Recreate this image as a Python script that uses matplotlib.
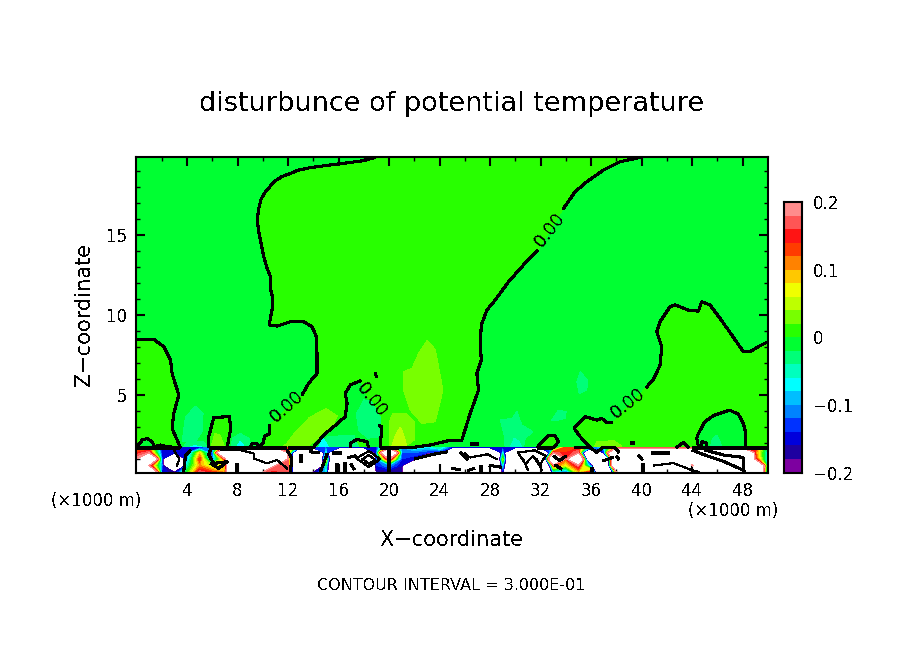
import numpy as np
import matplotlib
matplotlib.use("Agg")
import matplotlib.pyplot as plt
from matplotlib.colors import ListedColormap, BoundaryNorm

plt.rcParams['text.antialiased'] = False
plt.rcParams['font.family'] = 'DejaVu Sans'

W, H = 904, 654
LW_THICK = 1.5
LW_THIN = 0.8

# colour bins of the scale, bottom to top
levels = np.round(np.arange(-0.2, 0.2001, 0.02), 2)
bin_colors = ['#7d00a0', '#1e00a0', '#0000dc', '#0032ff', '#0082ff', '#00beff', '#00ffff',
              '#00ffbe', '#00ff78', '#00ff32', '#28ff00', '#78ff00', '#beff00', '#f0ff00',
              '#ffc800', '#ff8200', '#ff3c00', '#ff1414', '#ff5555', '#ff8c8c']
cbar_ticks = [-0.2, -0.1, 0, 0.1, 0.2]
cbar_labels = ['\u22120.2', '\u22120.1', '0', '0.1', '0.2']
x_major = [4, 8, 12, 16, 20, 24, 28, 32, 36, 40, 44, 48]
z_major = [5, 10, 15]

# zero contour (km)
line_a_up = [(18.91, 19.85), (17.99, 19.65), (16.40, 19.48), (15.35, 19.38), (13.77, 19.21), (12.84, 19.06),
             (12.18, 18.85), (11.52, 18.65), (11.0, 18.4), (10.6, 18.06), (10.21, 17.71), (9.86, 17.23),
             (9.68, 16.67), (9.55, 15.94), (9.68, 15.21), (9.86, 14.48), (10.07, 13.65), (10.34, 12.92),
             (10.6, 12.4), (10.6, 11.67), (10.79, 11.04), (10.73, 10.31), (10.5, 9.38), (11.13, 9.31),
             (12.18, 9.58), (13.24, 9.58), (13.9, 9.27), (14.24, 8.65), (14.29, 7.6), (14.29, 6.35),
             (13.63, 5.73), (13.1, 5.0)]
line_a_low = [(10.55, 3.13), (10.5, 2.56), (10.15, 2.44), (10.02, 1.98), (9.68, 1.77), (9.4, 1.71)]
line_b_up = [(13.98, 1.71), (14.82, 2.5), (15.61, 3.02), (16.53, 3.65), (16.67, 4.48), (16.53, 5.1),
             (16.93, 5.63), (17.77, 5.9)]
line_b_low = [(19.17, 3.1), (19.43, 3.02), (19.36, 2.4), (19.3, 1.71)]
line_c_up = [(39.87, 19.85), (38.3, 19.58), (36.97, 19.06), (35.66, 18.33), (34.73, 17.71), (33.76, 16.6)]
line_c_low = [(31.78, 14.06), (30.64, 13.13), (29.46, 12.08), (28.4, 10.94), (27.74, 10.31), (27.3, 9.38),
              (27.22, 8.23), (27.3, 7.17), (26.95, 6.35), (27.08, 5.31), (26.42, 3.85), (25.76, 2.19),
              (24.71, 2.15), (23.26, 1.88), (21.94, 1.73), (20.75, 1.71)]
line_d_low = [(35.92, 1.71), (35.13, 2.4), (34.65, 2.92), (35.52, 3.65), (36.44, 3.44), (36.84, 3.54),
              (37.24, 3.27), (37.71, 3.27)]
line_d_up = [(40.35, 5.46), (40.93, 5.98), (41.46, 6.88), (41.59, 8.02), (41.19, 8.96), (41.45, 9.58),
             (42.25, 10.52), (42.65, 10.63), (43.83, 10.27), (44.49, 10.25), (44.75, 10.83), (45.41, 10.63),
             (46.2, 9.79), (46.86, 9.06), (48.05, 7.71), (48.58, 7.71), (49.37, 8.08), (50, 8.33)]
line_left = [(0, 8.48), (1.37, 8.48), (2.16, 8.02), (2.69, 7.19), (2.82, 6.35), (3.35, 5.0), (2.95, 3.85),
             (2.82, 2.92), (3.48, 1.71)]
line_hill = [(0, 1.71), (0.45, 2.19), (0.84, 2.29), (1.24, 2.08), (1.42, 1.77), (1.9, 1.88), (2.43, 1.77), (3.48, 1.71)]
line_box = [(5.72, 1.71), (5.72, 2.4), (6.12, 3.6), (7.38, 3.65), (7.44, 2.81), (7.17, 1.71)]
line_sm1 = [(9.02, 1.77), (9.15, 1.98), (9.55, 1.94), (9.68, 1.77)]
line_sm2 = [(16.93, 1.71), (16.93, 1.98), (17.46, 2.23), (18.25, 2.08), (18.38, 1.71)]
line_sm3 = [(31.7, 1.71), (32.62, 2.5), (33.15, 2.44), (33.41, 2.08), (33.01, 1.71)]
line_sm4 = [(42.72, 1.71), (43.3, 2.04), (43.7, 1.71)]
line_sm5 = [(44.76, 1.77), (44.76, 2.08), (45.1, 2.04), (45.1, 1.77)]
line_dome = [(48.24, 1.71), (48.24, 2.6), (48.05, 3.23), (47.65, 3.81), (46.94, 4.06), (45.67, 3.71), (45.0, 3.33),
             (44.49, 2.6), (44.36, 2.29), (44.49, 1.77)]
line_marks = [[(18.9, 6.4), (19.0, 6.1)], [(26.42, 1.94), (27.08, 1.94)], [(39.1, 1.98), (39.5, 1.98)]]

# contour labels: x, z, angle
label_x = [11.9, 18.64, 32.75, 38.95]
label_z = [4.27, 4.69, 15.3, 4.48]
label_rot = [42, -52, 52, 38]

# weak anomalies above the band: value and outline
blobs = [
    (-0.03, [(3.61, 2.08), (3.88, 3.63), (4.67, 4.31), (5.27, 3.85), (5.19, 2.71), (4.67, 2.08)]),
    (-0.03, [(3.7, 1.72), (4.0, 2.1), (5.3, 2.1), (5.6, 1.72)]),
    (-0.07, [(4.2, 1.72), (4.6, 1.85), (5.3, 1.72)]),
    (0.03, [(5.9, 1.72), (6.2, 2.6), (6.6, 2.5), (7.0, 1.72)]),
    (-0.03, [(7.5, 1.72), (7.6, 2.3), (8.2, 2.6), (8.9, 2.3), (9.1, 1.72)]),
    (-0.07, [(7.9, 1.72), (8.2, 2.1), (8.6, 1.72)]),
    (0.03, [(11.9, 1.98), (12.6, 2.7), (13.7, 3.6), (15.0, 4.15), (15.9, 3.7), (15.5, 3.0), (14.2, 2.2),
            (13.5, 1.75), (11.5, 1.72)]),
    (-0.03, [(14.6, 1.72), (15.1, 2.4), (17.2, 2.5), (17.6, 1.72)]),
    (-0.07, [(14.4, 1.72), (14.8, 2.3), (15.2, 1.72)]),
    (-0.03, [(17.6, 2.8), (17.4, 3.8), (18.0, 4.7), (18.6, 4.6), (19.3, 3.6), (19.3, 2.4), (18.3, 2.3)]),
    (0.03, [(20.0, 1.72), (20.0, 3.3), (20.3, 3.85), (21.3, 3.85), (22.0, 3.3), (22.0, 2.2), (21.5, 1.9)]),
    (0.05, [(20.2, 1.75), (20.5, 2.5), (20.9, 3.0), (21.2, 2.4), (21.4, 1.75)]),
    (0.03, [(23.0, 8.4), (23.66, 7.85), (24.26, 5.31), (23.66, 3.33), (22.6, 3.23), (21.68, 4.06), (21.15, 5.31),
            (21.15, 6.46), (21.81, 6.67), (22.34, 7.6)]),
    (-0.03, [(28.8, 3.44), (29.74, 3.54), (30.12, 3.96), (30.51, 3.13), (31.38, 2.71), (30.78, 2.29), (30.64, 1.71),
             (29.19, 1.71), (29.11, 2.5)]),
    (-0.05, [(29.6, 1.72), (29.9, 2.3), (30.3, 2.1), (30.5, 1.72)]),
    (-0.03, [(32.89, 3.44), (33.42, 4.06), (34.02, 3.96), (33.94, 3.54), (33.15, 3.38)]),
    (-0.03, [(34.86, 5.83), (35.13, 6.46), (35.7, 5.94), (35.66, 5.31), (35.05, 5.1)]),
    (0.03, [(36.2, 1.71), (36.46, 2.08), (37.77, 2.15), (38.43, 1.81)]),
    (-0.03, [(45.41, 1.71), (45.62, 2.29), (45.94, 2.5), (46.26, 2.0), (46.33, 1.71)]),
]

# strong band near the ground, columns every km, values beyond the scale stay white
Hi = 0.9
Lo = -0.9
band_z = [0.16, 0.6, 1.0, 1.4, 1.72]
band_x = list(range(51))
band_r0 = [.15, Hi, -.14, -.18, 0, .18, .14, .10, Hi, Hi, .16, .15, .18, Lo, -.18, -.08, Lo, Lo, Lo, -.18,
           -.18, -.18, Lo, Lo, Lo, -.18, Lo, Lo, Lo, -.16, Lo, Lo, Lo, -.10, -.14, .08, .18, Lo, .12, Hi,
           Hi, Hi, Hi, Hi, Hi, Hi, .16, Hi, Hi, Hi, -.18]
band_r1 = [Hi, .18, -.10, Lo, -.05, .10, .04, .08, Hi, Hi, Hi, .18, .18, Lo, Lo, -.04, Lo, Lo, Lo, -.14,
           -.10, -.16, Lo, Lo, Lo, Lo, Lo, Lo, Lo, -.08, Lo, Lo, Lo, .14, .06, .18, -.14, Lo, Hi, Hi,
           Hi, Hi, Hi, Hi, .12, Hi, Hi, Hi, Hi, Hi, -.14]
band_r2 = [.20, Hi, -.12, Lo, -.10, .14, -.12, .14, Hi, Hi, Hi, Hi, .18, Lo, Lo, .08, Lo, Lo, Lo, -.12,
           .20, -.14, -.16, Lo, Lo, Lo, Lo, Lo, Lo, .04, Lo, Lo, Lo, Hi, .12, Hi, Lo, Lo, Hi, Hi,
           Hi, Hi, Hi, Hi, Hi, Hi, Hi, Hi, Hi, .16, -.10]
band_r3 = [.14, .18, -.14, -.16, -.14, .08, -.16, Hi, Hi, Hi, Hi, Hi, .18, Lo, Lo, -.06, Lo, Lo, Lo, -.14,
           Hi, -.12, -.12, -.14, -.16, Lo, Lo, Lo, Lo, -.08, Lo, Lo, Lo, .18, .14, .18, Lo, -.16, Hi, Hi,
           Hi, Hi, Hi, Hi, Hi, Hi, Hi, Hi, Hi, .12, -.08]
band_r4 = [.10, .10, -.14, -.16, -.14, -.16, -.10, .14, .15, .15, .15, .15, .14, -.14, -.14, -.12, -.14, -.14, -.14, -.14,
           .12, -.10, -.06, -.08, -.04, -.15, -.15, -.15, -.15, -.15, -.15, -.15, -.15, -.10, .14, .14, -.12, -.08, .10, .10,
           .10, .10, .10, .10, .10, .10, .10, .12, .15, .14, -.05]

# thin and thick lines inside the band
band_thick = [
    [(0, 1.71), (3.48, 1.71)], [(5.72, 1.71), (11.9, 1.71)], [(12.0, 1.71), (14.0, 1.71)], [(19.3, 1.71), (20.75, 1.71)],
    [(31.7, 1.71), (33.0, 1.71)], [(34.7, 1.71), (35.92, 1.75), (36.4, 1.42), (36.9, 1.71), (37.9, 1.71), (38.2, 1.4)],
    [(44.0, 1.71), (50, 1.71)],
    [(4.27, 1.56), (3.88, 1.25), (3.74, 0.2)], [(11.92, 1.56), (12.3, 1.04), (12.18, 0.2)],
    [(5.85, 1.56), (5.72, 1.25), (6.12, 0.73), (7.17, 0.83), (6.5, 0.42), (5.85, 0.73)],
    [(7.96, 0.73), (7.96, 0.2)], [(14.55, 0.2), (14.82, 0.73), (15.1, 1.35)], [(19.96, 1.56), (19.96, 0.2)],
    [(40.14, 0.73), (40.14, 0.2)], [(36.05, 0.5), (36.05, 0.2)], [(27.3, 0.6), (27.3, 0.2)],
    [(44.0, 1.56), (45.0, 1.25), (46.5, 0.85), (48.05, 0.3)], [(48.05, 1.1), (46.5, 1.25), (45.0, 1.56)],
    [(48.05, 1.1), (48.1, 0.2)],
    [(38.2, 0.95), (38.0, 1.2)], [(33.0, 1.2), (33.5, 0.9), (34.0, 1.2)], [(22.0, 1.0), (23.5, 1.3), (24.6, 1.45)],
]
band_thin = [
    [(6.66, 1.6), (8.2, 1.56), (9.28, 1.35), (9.28, 1.04), (10.34, 0.73), (11.13, 0.94), (11.92, 0.42)],
    [(3.0, 1.5), (3.4, 1.0), (3.2, 0.6)],
    [(41.0, 0.6), (42.5, 0.75), (44.0, 0.3), (44.5, 0.2)],
    [(17.9, 1.0), (18.4, 1.25), (18.9, 0.95), (18.4, 0.7), (17.9, 1.0)],
    [(17.4, 1.05), (18.4, 1.5), (19.3, 1.0), (18.4, 0.5), (17.4, 1.05)],
    [(30.2, 1.4), (30.8, 0.7), (31.4, 1.2), (31.9, 0.6), (32.4, 1.2), (31.5, 1.55), (30.2, 1.4)],
    [(30.6, 1.0), (31.0, 0.3)], [(31.7, 1.0), (32.1, 0.3)],
    [(28.5, 1.0), (27.8, 1.3), (26.4, 1.1), (26.0, 1.35)],
]
band_dash = [
    [(13.0, 1.2), (13.0, 0.9)], [(13.8, 1.45), (14.4, 1.4)], [(15.6, 1.4), (16.1, 1.4)], [(15.9, 0.6), (15.9, 0.2)],
    [(16.5, 0.7), (16.5, 0.3)], [(16.8, 1.1), (17.3, 1.2)], [(17.0, 0.65), (17.2, 0.4)], [(25.0, 0.4), (25.6, 0.35)],
    [(25.7, 1.4), (26.2, 1.0)], [(26.7, 0.4), (26.3, 0.3)], [(28.0, 0.6), (28.8, 0.5)], [(39.8, 1.2), (40.0, 1.0)],
    [(40.9, 1.4), (41.4, 1.4)], [(41.7, 1.4), (42.1, 1.4)], [(33.2, 0.6), (33.6, 0.4)], [(37.0, 0.9), (37.7, 1.1)],
]


def xs(pts):
    return [p[0] for p in pts]


def zs(pts):
    return [p[1] for p in pts]


cmap = ListedColormap(bin_colors)
norm = BoundaryNorm(levels, cmap.N)

fig = plt.figure(figsize=(W / 100, H / 100), dpi=100)
ax = fig.add_axes([136.5 / W, (H - 472.5) / H, 631.5 / W, 315.5 / H])
ax.set_xlim(0, 50)
ax.set_ylim(0.16, 19.875)
ax.set_facecolor(cmap(norm(-0.01)))

# areas above zero
pos_color = cmap(norm(0.01))
top_edge = [(39.87, 20), (18.91, 20)]
middle = line_a_up + line_a_low + line_b_up + line_b_low + [(20.75, 1.71)] + line_c_low[::-1] + line_c_up[::-1] + top_edge
right = line_d_low + line_d_up + [(50, 1.71)]
left = line_left + line_hill[::-1]
for poly in [middle, right, left, line_box, line_sm2, line_sm3]:
    ax.fill(xs(poly), zs(poly), color=pos_color, lw=0, antialiased=False, zorder=1)
ax.fill(xs(line_dome), zs(line_dome), color=cmap(norm(-0.01)), lw=0, antialiased=False, zorder=1.1)

for value, outline in blobs:
    ax.fill(xs(outline), zs(outline), color=cmap(norm(value)), lw=0, antialiased=False, zorder=1.2)

# ground band
ax.axhspan(0.16, 1.72, color='white', lw=0, zorder=1.5)
band = np.array([band_r0, band_r1, band_r2, band_r3, band_r4])
ax.contourf(band_x, band_z, band, levels=levels, colors=bin_colors, antialiased=False, zorder=2)

# zero contour lines
thick_lines = [line_a_up, line_a_low, line_b_up, line_b_low, line_c_up, line_c_low, line_d_low, line_d_up,
               line_left, line_hill, line_box, line_sm1, line_sm2, line_sm3, line_sm4, line_sm5, line_dome]
for pts in thick_lines + line_marks + band_thick:
    ax.plot(xs(pts), zs(pts), color='k', lw=LW_THICK, antialiased=False, zorder=3, solid_capstyle='butt')
for pts in band_thin:
    ax.plot(xs(pts), zs(pts), color='k', lw=LW_THIN, antialiased=False, zorder=3)
for pts in band_dash:
    ax.plot(xs(pts), zs(pts), color='k', lw=LW_THICK, antialiased=False, zorder=3)

for lx, lz, rot in zip(label_x, label_z, label_rot):
    ax.text(lx, lz, '0.00', rotation=rot, rotation_mode='anchor', ha='center', va='center', fontsize=12.5, zorder=4)

# frame and ticks
for s in ax.spines.values():
    s.set_linewidth(1.5)
    s.set_zorder(5)
ax.set_xticks(x_major)
ax.set_xticks(np.arange(2, 50, 4), minor=True)
ax.set_yticks(z_major)
ax.set_yticks([z for z in range(1, 20) if z % 5 != 0], minor=True)
ax.tick_params(which='major', direction='in', length=6.5, width=1.5, top=True, right=True, labelsize=12, pad=7)
ax.tick_params(which='minor', direction='in', length=3.2, width=1, top=True, right=True)

# colour bar
cax = fig.add_axes([784.5 / W, (H - 472.5) / H, 17.5 / W, 270.5 / H])
cax.pcolormesh([0, 1], levels, np.arange(20).reshape(-1, 1), cmap=cmap, vmin=-0.5, vmax=19.5, antialiased=False)
cax.set_xticks([])
cax.yaxis.tick_right()
cax.set_yticks(cbar_ticks, cbar_labels)
cax.tick_params(length=0, labelsize=12, pad=8)
for s in cax.spines.values():
    s.set_linewidth(1.5)


def put(px, py, s, **kw):
    fig.text(px / W, 1 - py / H, s, ha=kw.pop('ha', 'center'), va='center', **kw)


put(452, 104, 'disturbunce of potential temperature', fontsize=19.5)
put(452, 540, 'X\u2212coordinate', fontsize=15)
put(84, 315, 'Z\u2212coordinate', fontsize=15, rotation=90)
put(96, 501, '(\u00d71000 m)', fontsize=12)
put(733, 511, '(\u00d71000 m)', fontsize=12)
put(451, 586, 'CONTOUR INTERVAL = 3.000E-01', fontsize=11.5)

fig.savefig('out.png', dpi=100)
